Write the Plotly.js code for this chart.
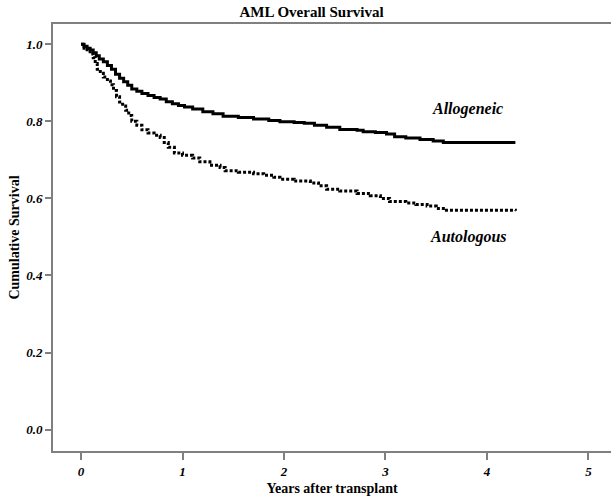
<!DOCTYPE html>
<html>
<head>
<meta charset="utf-8">
<script src="https://cdn.plot.ly/plotly-3.0.1.min.js"></script>
<style>html,body{margin:0;padding:0;background:#fff;}#chart{width:611px;height:497px;}</style>
</head>
<body>
<div id="chart"></div>
<script>
// Kaplan-Meier estimates
const alloYears = [0, 0.03, 0.06, 0.09, 0.12, 0.15, 0.18, 0.22, 0.26, 0.30, 0.34, 0.38, 0.42, 0.46, 0.50, 0.55, 0.60, 0.66, 0.72, 0.78, 0.84, 0.90, 0.96, 1.02, 1.10, 1.20, 1.30, 1.40, 1.55, 1.70, 1.85, 1.96, 2.10, 2.20, 2.30, 2.42, 2.55, 2.72, 2.78, 2.90, 3.01, 3.09, 3.20, 3.34, 3.47, 3.57, 4.28];
const alloSurv  = [1.0, 0.995, 0.99, 0.985, 0.978, 0.97, 0.962, 0.955, 0.945, 0.935, 0.922, 0.912, 0.903, 0.894, 0.884, 0.878, 0.872, 0.867, 0.862, 0.858, 0.851, 0.846, 0.841, 0.837, 0.832, 0.825, 0.820, 0.813, 0.810, 0.806, 0.802, 0.799, 0.797, 0.795, 0.790, 0.785, 0.779, 0.777, 0.773, 0.771, 0.767, 0.760, 0.757, 0.753, 0.749, 0.745, 0.745];
const autoYears = [0, 0.03, 0.06, 0.09, 0.12, 0.14, 0.16, 0.19, 0.22, 0.26, 0.29, 0.32, 0.35, 0.38, 0.41, 0.44, 0.47, 0.50, 0.55, 0.60, 0.66, 0.72, 0.78, 0.82, 0.86, 0.92, 1.00, 1.10, 1.17, 1.27, 1.37, 1.42, 1.55, 1.70, 1.80, 1.90, 1.96, 2.10, 2.26, 2.34, 2.42, 2.55, 2.72, 2.85, 2.95, 3.04, 3.20, 3.30, 3.41, 3.50, 3.57, 4.28];
const autoSurv  = [1.0, 0.99, 0.982, 0.975, 0.965, 0.95, 0.935, 0.925, 0.915, 0.905, 0.895, 0.88, 0.864, 0.85, 0.84, 0.829, 0.815, 0.80, 0.79, 0.778, 0.77, 0.764, 0.758, 0.745, 0.733, 0.718, 0.712, 0.705, 0.695, 0.686, 0.680, 0.672, 0.668, 0.664, 0.660, 0.655, 0.650, 0.645, 0.640, 0.633, 0.624, 0.619, 0.613, 0.607, 0.600, 0.592, 0.588, 0.584, 0.580, 0.574, 0.569, 0.568];
const xTicks = [0, 1, 2, 3, 4, 5];
const yTicks = [0.0, 0.2, 0.4, 0.6, 0.8, 1.0];
const groupLabels = ["Allogeneic", "Autologous"];
const labelX = [3.81, 3.82];
const labelY = [0.832, 0.50];

const serif = "Liberation Serif";
const traces = [
  {x: alloYears, y: alloSurv, type: "scatter", mode: "lines", line: {shape: "hv", color: "#000", width: 3}, name: groupLabels[0]},
  {x: autoYears, y: autoSurv, type: "scatter", mode: "lines", line: {shape: "hv", color: "#000", width: 3, dash: "3px,2px"}, name: groupLabels[1]}
];
const layout = {
  width: 611, height: 497,
  margin: {l: 53, r: 0, t: 24, b: 46},
  paper_bgcolor: "#fff", plot_bgcolor: "#fff",
  showlegend: false,
  title: {text: "AML Overall Survival", font: {family: serif, size: 15, color: "#000", weight: "bold"}, x: 0.51, xanchor: "center", y: 0.976, yanchor: "middle", yref: "container"},
  xaxis: {
    range: [-0.276, 5.222], tickvals: xTicks, ticktext: xTicks.map(String),
    showgrid: false, zeroline: false, showline: true, mirror: true, linecolor: "#808080", linewidth: 2,
    ticks: "outside", ticklen: 7, tickwidth: 2, tickcolor: "#808080",
    tickfont: {family: serif, size: 13, color: "#000", weight: "bold", style: "italic"},
    title: {text: "Years after transplant", font: {family: serif, size: 14, color: "#000", weight: "bold"}, standoff: 6}
  },
  yaxis: {
    range: [-0.0556, 1.0527], tickvals: yTicks, ticktext: yTicks.map(v => v.toFixed(1)),
    showgrid: false, zeroline: false, showline: true, linecolor: "#808080", linewidth: 2,
    ticks: "outside", ticklen: 6, tickwidth: 2, tickcolor: "#808080",
    tickfont: {family: serif, size: 13, color: "#000", weight: "bold", style: "italic"},
    title: {text: "Cumulative Survival", font: {family: serif, size: 14, color: "#000", weight: "bold"}, standoff: 3}
  },
  annotations: groupLabels.map((t, i) => ({
    x: labelX[i], y: labelY[i], xref: "x", yref: "y", text: t, showarrow: false,
    font: {family: serif, size: 16, color: "#000", weight: "bold", style: "italic"}
  }))
};
Plotly.newPlot("chart", traces, layout, {staticPlot: true, displayModeBar: false});
</script>
</body>
</html>
